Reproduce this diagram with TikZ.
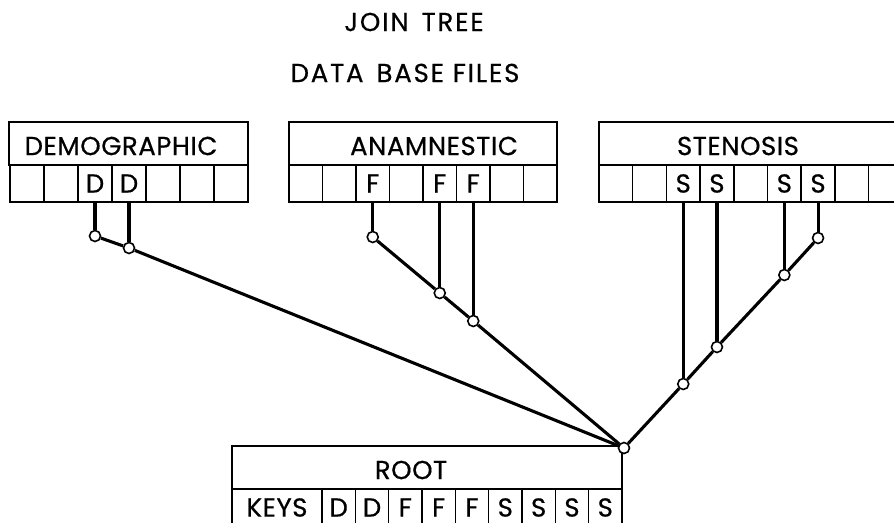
\documentclass[tikz,border=0pt]{standalone}
\usepackage{fontspec}
\setmainfont{Poppins}[FakeBold=0.6]
\usetikzlibrary{positioning}
\tikzset{
    caps/.style={font=\fontsize{26}{30}\selectfont\addfontfeature{LetterSpace=2}, inner sep=0pt},
    heading/.style={font=\fontsize{26}{30}\selectfont\addfontfeature{LetterSpace=7}, inner sep=0pt},
    box/.style={draw, line width=1.5pt, inner sep=0pt, outer sep=0pt, anchor=north west},
    cell/.style={box, caps, minimum height=37pt},
    junction/.style={draw, circle, fill=white, line width=1.6pt, minimum size=11pt, inner sep=0pt},
    treeline/.style={line width=3.1pt}
}

\begin{document}
\begin{tikzpicture}[x=1pt, y=-1pt]
    \useasboundingbox (0,0) rectangle (894,522);
    \node[heading] (title) at (414,22) {JOIN\enspace TREE};
    \node[heading] (files) at (405,73) {DATA\enspace BASE FILES};

    % demographic file
    \node[box, minimum width=239pt, minimum height=43pt] (demo) at (9,122) {};
    \node[caps] (demolbl) at (121,146) {DEMOGRAPHIC};
    \foreach \i/\t in {1/,2/,3/D,4/D,5/,6/,7/}
        \node[cell, minimum width=34pt] (demo\i) at ({10+(\i-1)*34},165) {\t};

    % anamnestic file
    \node[box, minimum width=268pt, minimum height=43pt] (anam) at (289,122) {};
    \node[caps] (anamlbl) at (434,146) {ANAMNESTIC};
    \foreach \i/\t in {1/,2/,3/F,4/,5/F,6/F,7/,8/}
        \node[cell, minimum width=33.5pt] (anam\i) at ({289+(\i-1)*33.5},165) {\t};

    % stenosis file
    \node[box, minimum width=310pt, minimum height=43pt] (sten) at (599,122) {};
    \node[caps] (stenlbl) at (738,146) {STENOSIS};
    \foreach \i/\t in {1/,2/,3/S,4/S,5/,6/S,7/S,8/,9/}
        \node[cell, minimum width=33.7pt] (sten\i) at ({599+(\i-1)*33.7},165) {\t};

    % root file
    \node[box, minimum width=390pt, minimum height=43pt] (root) at (232,446) {};
    \node[caps] (rootlbl) at (411,470) {ROOT};
    \node[cell, minimum width=90pt] (keys) at (232,489) {KEYS};
    \foreach \i/\t in {1/D,2/D,3/F,4/F,5/F,6/S,7/S,8/S,9/S}
        \node[cell, minimum width=33.33pt] (key\i) at ({322+(\i-1)*33.33},489) {\t};

    % junctions
    \node[junction] (hub) at (624,448) {};
    \node[junction] (d1) at (demo3.south |- 0,236) {};
    \node[junction] (d2) at (demo4.south |- 0,248) {};
    \node[junction] (f1) at (anam3.south |- 0,237) {};
    \node[junction] (f2) at (anam5.south |- 0,293) {};
    \node[junction] (f3) at (anam6.south |- 0,321) {};
    \node[junction] (s4) at (sten7.south |- 0,238) {};
    \node[junction] (s3) at (sten6.south |- 0,275) {};
    \node[junction] (s2) at (sten4.south |- 0,347) {};
    \node[junction] (s1) at (sten3.south |- 0,384) {};

    \draw[treeline] (demo3.south) -- (d1);
    \draw[treeline] (demo4.south) -- (d2);
    \draw[treeline] (d1) -- (d2) -- (hub);
    \draw[treeline] (anam3.south) -- (f1);
    \draw[treeline] (anam5.south) -- (f2);
    \draw[treeline] (anam6.south) -- (f3);
    \draw[treeline] (f1) -- (f2) -- (f3) -- (hub);
    \draw[treeline] (sten7.south) -- (s4);
    \draw[treeline] (sten6.south) -- (s3);
    \draw[treeline] (sten4.south) -- (s2);
    \draw[treeline] (sten3.south) -- (s1);
    \draw[treeline] (s4) -- (s3) -- (s2) -- (s1) -- (hub);
\end{tikzpicture}
\end{document}
